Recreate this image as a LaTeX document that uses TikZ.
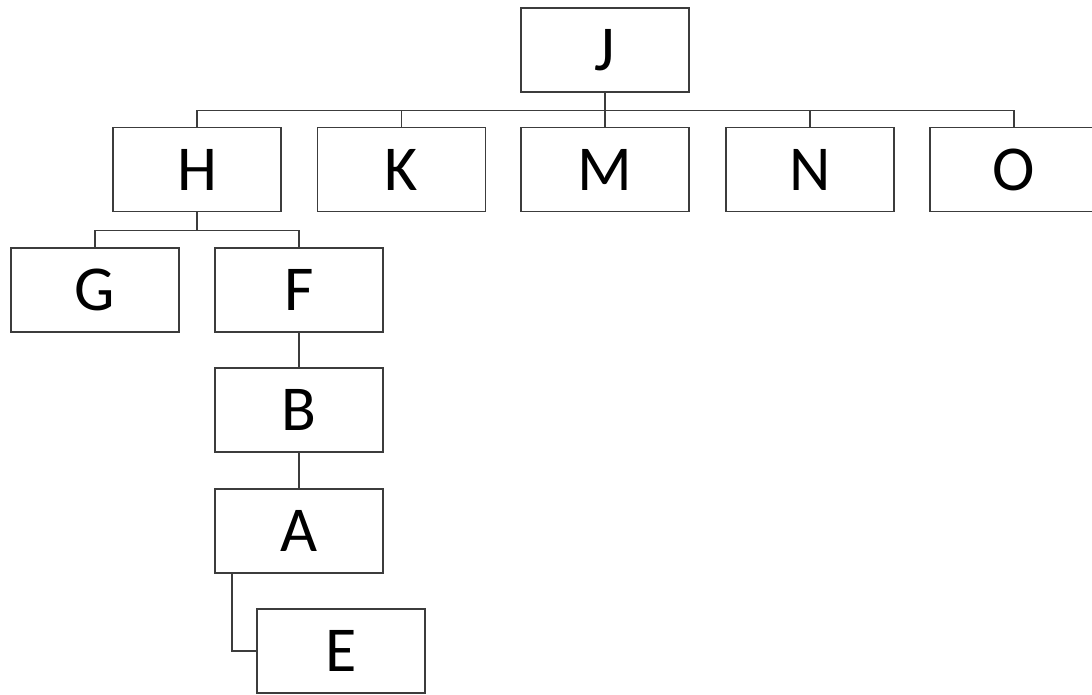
\documentclass[tikz,border=0pt]{standalone}
\usepackage{fontspec}
\setmainfont{Carlito}
\usetikzlibrary{positioning, calc}
\definecolor{boxline}{RGB}{60, 60, 60}

\begin{document}
\begin{tikzpicture}[x=1pt, y=-1pt,
        post/.style={rectangle, draw=boxline, line width=1.3pt, fill=white, minimum width=168pt, minimum height=84pt, inner sep=0pt, font=\fontsize{64}{70}\selectfont},
        link/.style={draw=boxline, line width=1.3pt}
      ]
        \useasboundingbox (0,0) rectangle (1092,694);
        \clip (0,0) rectangle (1092,694);
        % top row
        \node[post] (J) at (605, 50)    {J};
        \node[post] (H) at (197, 169.5) {H};
        \node[post] (K) at (401.5, 169.5) {K};
        \node[post] (M) at (605, 169.5) {M};
        \node[post] (N) at (810, 169.5) {N};
        \node[post] (O) at (1014, 169.5) {O};
        % below H
        \node[post] (G) at (95, 290)  {G};
        \node[post] (F) at (299, 290) {F};
        \node[post] (B) at (299, 410) {B};
        \node[post] (A) at (299, 531) {A};
        \node[post] (E) at (341, 651) {E};
        \foreach \c in {H,K,M,N,O} { \draw[link] (J.south) -- ++(0,18) -| (\c.north); }
        \foreach \c in {G,F} { \draw[link] (H.south) -- ++(0,18) -| (\c.north); }
        \draw[link] (F) -- (B);
        \draw[link] (B) -- (A);
        \draw[link] ([xshift=-67pt]A.south) |- (E.west);
      \end{tikzpicture}
\end{document}
